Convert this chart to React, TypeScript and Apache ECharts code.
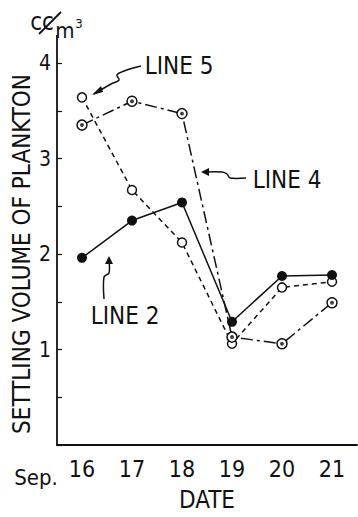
import React, { useEffect, useRef } from "react";
import * as echarts from "echarts";

const dates = ["16", "17", "18", "19", "20", "21"];
const line2 = [1.96, 2.35, 2.54, 1.29, 1.77, 1.78];
const line5 = [3.64, 2.67, 2.12, 1.06, 1.65, 1.71];
const line4 = [3.35, 3.6, 3.47, 1.13, 1.06, 1.49];
const yTickLabels = [1, 2, 3, 4];

const FONT = '"Liberation Sans Narrow", "DejaVu Sans Condensed", "Liberation Sans", sans-serif';

export default function App() {
  const ref = useRef<HTMLDivElement>(null);
  useEffect(() => {
    if (!ref.current) return;
    const chart = echarts.init(ref.current, undefined, { renderer: "svg" });
    const black = "#111";
    const txt = (x: number, y: number, text: string, size: number, extra: any = {}) => ({
      type: "text",
      x,
      y,
      style: { text, fill: black, font: `${size}px ${FONT}`, textAlign: "center", textVerticalAlign: "middle" },
      ...extra,
    });
    const pl = (points: number[][], smooth = 0) => ({
      type: "polyline",
      shape: { points, smooth },
      style: { stroke: black, lineWidth: 1.5, fill: null },
    });
    chart.setOption({
      animation: false,
      backgroundColor: "#fff",
      grid: { left: 57, right: 1, top: 63, bottom: 54 },
      xAxis: {
        type: "category",
        data: dates,
        boundaryGap: true,
        axisLine: { lineStyle: { color: black, width: 1.8 } },
        axisTick: { inside: true, length: 5, alignWithLabel: true, lineStyle: { color: black, width: 1.2 } },
        axisLabel: { color: black, fontFamily: FONT, fontSize: 23, margin: 12 },
        name: "DATE",
        nameLocation: "middle",
        nameGap: 43,
        nameTextStyle: { color: black, fontFamily: FONT, fontSize: 24 },
      },
      yAxis: {
        type: "value",
        min: 0,
        max: 4,
        interval: 0.5,
        splitLine: { show: false },
        axisLine: { show: true, lineStyle: { color: black, width: 1.8 } },
        axisTick: { show: true, inside: true, length: 5, lineStyle: { color: black, width: 1.2 } },
        axisLabel: {
          color: black,
          fontFamily: FONT,
          fontSize: 21,
          margin: 6,
          formatter: (v: number) => (yTickLabels.includes(v) ? String(v) : ""),
        },
      },
      series: [
        {
          type: "line",
          data: line2,
          symbol: "circle",
          symbolSize: 10,
          lineStyle: { color: black, width: 1.5 },
          itemStyle: { color: black },
          z: 3,
        },
        {
          type: "line",
          data: line5,
          symbol: "circle",
          symbolSize: 9,
          lineStyle: { color: black, width: 1.5, type: [5, 4] },
          itemStyle: { color: "#fff", borderColor: black, borderWidth: 1.5 },
          z: 2,
        },
        {
          type: "line",
          data: line4,
          symbol: "circle",
          symbolSize: 10,
          lineStyle: { color: black, width: 1.5, type: [12, 4, 3, 4] },
          itemStyle: { color: "#fff", borderColor: black, borderWidth: 1.5 },
          z: 2,
        },
        {
          type: "scatter",
          data: line4,
          symbol: "circle",
          symbolSize: 4,
          itemStyle: { color: black },
          z: 4,
        },
      ],
      graphic: [
        { type: "line", shape: { x1: 57, y1: 35, x2: 57, y2: 63 }, style: { stroke: black, lineWidth: 1.8 } },
        txt(22, 254, "SETTLING VOLUME OF PLANKTON", 24, { rotation: Math.PI / 2 }),
        txt(42, 22, "cc", 24),
        txt(65, 30, "m", 22),
        txt(79, 23, "3", 13),
        { type: "line", shape: { x1: 39, y1: 34, x2: 61, y2: 12 }, style: { stroke: black, lineWidth: 1.8 } },
        txt(36, 477, "Sep.", 22),
        txt(179, 66, "LINE 5", 24),
        txt(287, 180, "LINE 4", 24),
        txt(125, 316, "LINE 2", 24),
        pl([[141, 66], [124, 71], [117, 75], [119, 80], [111, 84], [94, 94]], 0.4),
        { type: "polygon", shape: { points: [[92, 95], [101, 86], [103, 92]] }, style: { fill: black } },
        pl([[246, 178], [230, 178], [227, 174], [222, 172], [204, 172]], 0.3),
        { type: "polygon", shape: { points: [[201, 172], [209, 168], [209, 176]] }, style: { fill: black } },
        pl([[104, 299], [104, 277], [109, 273], [109, 260]], 0.3),
        { type: "polygon", shape: { points: [[109, 256], [105, 264], [113, 264]] }, style: { fill: black } },
      ],
    });
    return () => chart.dispose();
  }, []);
  return (
    <div
      ref={ref}
      style={{ position: "fixed", left: 0, top: 0, width: 358, height: 517, background: "#fff" }}
    />
  );
}
